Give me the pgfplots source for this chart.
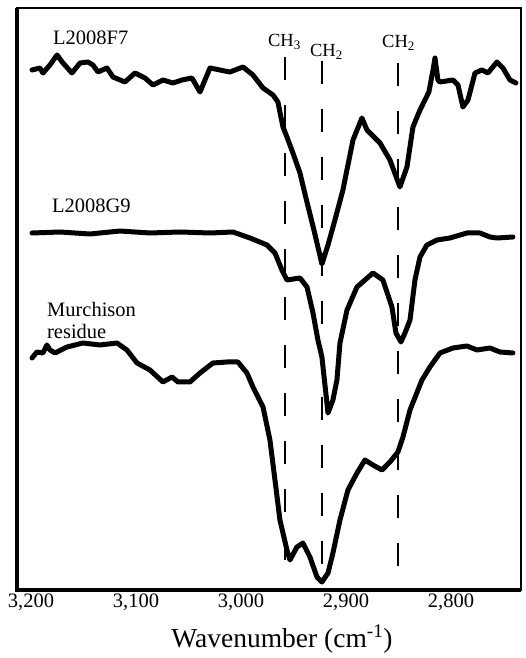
\documentclass[border=0pt]{standalone}
\usepackage{fontspec}
\setmainfont{Liberation Serif}
\usepackage{pgfplots}
\pgfplotsset{compat=1.18}
\begin{document}
\begin{tikzpicture}
\path[use as bounding box] (-17pt,-68pt) rectangle (509pt,590pt);
\begin{axis}[
  at={(0pt,0pt)}, anchor=south west,
  width=504pt, height=582pt, scale only axis,
  x dir=reverse,
  xmin=2733.3, xmax=3213.3,
  ymin=-590, ymax=-8,
  xtick={2800,2900,3000,3100,3200},
  ytick=\empty,
  major tick length=0pt,
  /pgf/number format/1000 sep={,},
  /pgf/number format/assume math mode=true,
  xticklabel style={font=\fontsize{20.5}{24}\selectfont},
  axis line style={line width=2.5pt},
  xlabel={Wavenumber (cm\textsuperscript{-1})},
  xlabel style={font=\fontsize{27.5}{30}\selectfont, at={(axis description cs:0.5,0)}, anchor=base, yshift=-57pt, xshift=13pt},
]
% L2008F7
\addplot[black, line width=5pt, line join=round, line cap=round] coordinates {
(3199.0,-70) (3191.4,-68) (3188.6,-73) (3181.9,-65) (3175.2,-55) (3169.5,-63)
(3161.0,-73) (3153.3,-63) (3145.7,-62) (3141.0,-65) (3136.2,-72) (3127.6,-68)
(3121.9,-77) (3110.5,-82) (3101.0,-73) (3091.4,-78) (3083.8,-85) (3074.3,-80)
(3064.8,-83) (3056.2,-80) (3046.7,-78) (3039.0,-92) (3029.5,-68) (3020.0,-70)
(3010.5,-72) (2998.1,-67) (2988.6,-75) (2979.0,-88) (2969.5,-95) (2964.8,-102)
(2960.0,-127) (2956.2,-137) (2950.5,-153) (2943.8,-173) (2938.1,-198) (2930.5,-230)
(2922.9,-264) (2917.1,-245) (2910.5,-220) (2902.9,-190) (2893.3,-140) (2884.8,-118)
(2880.0,-130) (2867.6,-143) (2858.1,-160) (2848.6,-187) (2841.9,-167) (2836.2,-127)
(2829.5,-110) (2821.0,-92) (2817.1,-70) (2815.2,-58) (2812.4,-80) (2810.5,-82)
(2798.1,-80) (2793.3,-85) (2788.6,-107) (2783.8,-100) (2777.1,-73) (2770.5,-70)
(2764.8,-73) (2756.2,-62) (2750.5,-68) (2743.8,-80) (2738.1,-83)
};
% L2008G9
\addplot[black, line width=5pt, line join=round, line cap=round] coordinates {
(3199.0,-233) (3172.4,-232) (3143.8,-234) (3115.2,-231) (3086.7,-233) (3058.1,-232)
(3029.5,-233) (3007.6,-232) (2991.4,-238) (2975.2,-245) (2967.6,-253) (2961.0,-270)
(2956.2,-280) (2943.8,-278) (2937.1,-287) (2931.4,-313) (2926.7,-340) (2922.9,-357)
(2920.0,-385) (2917.1,-413) (2912.4,-400) (2908.6,-380) (2905.7,-343) (2899.0,-310)
(2889.5,-287) (2874.3,-273) (2864.8,-280) (2856.2,-307) (2852.4,-333) (2847.6,-342)
(2843.8,-333) (2839.0,-320) (2834.3,-280) (2829.5,-257) (2822.9,-245) (2813.3,-240)
(2801.0,-238) (2784.8,-233) (2772.4,-233) (2762.9,-237) (2756.2,-238) (2741.0,-237)
};
% Murchison residue
\addplot[black, line width=5pt, line join=round, line cap=round] coordinates {
(3199.0,-358) (3194.3,-352) (3188.6,-353) (3184.8,-345) (3181.9,-350) (3177.1,-353)
(3165.7,-347) (3150.5,-343) (3134.3,-345) (3118.1,-343) (3108.6,-350) (3099.0,-363)
(3086.7,-370) (3074.3,-382) (3065.7,-377) (3060.0,-382) (3048.6,-382) (3039.0,-373)
(3026.7,-363) (3013.3,-362) (3002.9,-362) (2994.3,-373) (2988.6,-387) (2979.0,-407)
(2972.4,-440) (2967.6,-480) (2962.9,-520) (2956.2,-550) (2953.3,-560) (2946.7,-547)
(2941.0,-543) (2934.3,-557) (2927.6,-577) (2922.9,-582) (2917.1,-573) (2912.4,-553)
(2905.7,-520) (2898.1,-490) (2889.5,-473) (2881.9,-460) (2874.3,-465) (2865.7,-470)
(2858.1,-462) (2850.5,-452) (2845.7,-437) (2839.0,-410) (2827.6,-380) (2820.0,-367)
(2810.5,-353) (2798.1,-348) (2784.8,-346) (2775.2,-350) (2762.9,-348) (2753.3,-352)
(2741.0,-353)
};
% dashed marker lines
\addplot[black, line width=2pt, dash pattern=on 23pt off 25pt] coordinates {(2958,-57) (2958,-582)};
\addplot[black, line width=2pt, dash pattern=on 23pt off 25pt] coordinates {(2923,-61) (2923,-580)};
\addplot[black, line width=2pt, dash pattern=on 23pt off 25pt] coordinates {(2850,-63) (2850,-572)};
% labels
\node[anchor=base west, inner sep=0pt, font=\fontsize{20.5}{24}\selectfont] at (axis cs:3179,-45) {L2008F7};
\node[anchor=base west, inner sep=0pt, font=\fontsize{20.5}{24}\selectfont] at (axis cs:3180,-213) {L2008G9};
\node[anchor=base west, inner sep=0pt, font=\fontsize{20.5}{24}\selectfont] at (axis cs:3184.8,-317) {Murchison};
\node[anchor=base west, inner sep=0pt, font=\fontsize{20.5}{24}\selectfont] at (axis cs:3184.8,-339) {residue};
\node[anchor=base west, inner sep=0pt, font=\fontsize{18.5}{20}\selectfont] at (axis cs:2974.3,-47) {CH\textsubscript{3}};
\node[anchor=base west, inner sep=0pt, font=\fontsize{18.5}{20}\selectfont] at (axis cs:2934.3,-57) {CH\textsubscript{2}};
\node[anchor=base west, inner sep=0pt, font=\fontsize{18.5}{20}\selectfont] at (axis cs:2865.7,-48) {CH\textsubscript{2}};
\end{axis}
\draw[line width=4.5pt] (0pt,582pt) -- (0pt,0pt) -- (504pt,0pt);
\end{tikzpicture}
\end{document}
